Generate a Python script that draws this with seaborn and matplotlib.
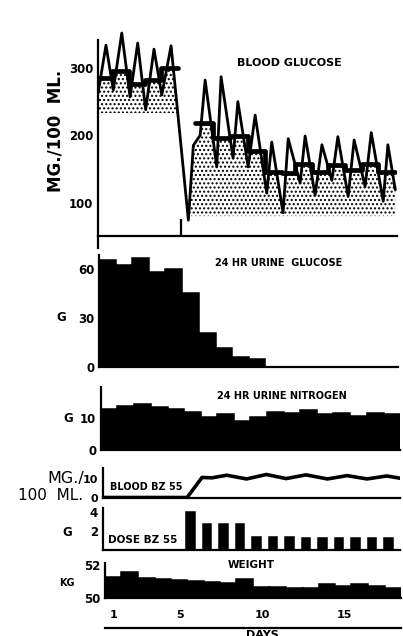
import numpy as np
import matplotlib
matplotlib.use("Agg")
import matplotlib.pyplot as plt
import seaborn as sns

# ---------------- data ----------------
days = list(range(1, 19))

# blood glucose readings, mg/100 ml (time in days from start of study)
glucose_t = [0.00, 0.48, 0.92, 1.43, 1.93, 2.39, 2.87, 3.37, 3.84, 4.40,
             5.44, 5.74, 6.15, 6.45, 7.15, 7.41, 8.13, 8.42, 9.04, 9.46,
             10.16, 10.46, 11.14, 11.45, 12.17, 12.47, 13.07, 13.48, 14.08, 14.44,
             15.06, 15.42, 16.08, 16.45, 17.17, 17.45, 17.90]
glucose_v = [262, 334, 267, 352, 257, 337, 238, 328, 260, 333,
             74, 185, 200, 282, 153, 287, 166, 250, 153, 230,
             114, 190, 85, 195, 129, 199, 111, 186, 133, 198,
             109, 193, 124, 204, 102, 186, 119]

# daily mean blood glucose, before and during BZ 55
mean_edges_pre = [0.00, 0.84, 1.85, 2.80, 3.80, 4.82]
mean_pre = [285, 295, 276, 282, 300]
mean_edges_post = [5.84, 6.90, 7.95, 9.00, 10.05, 11.05, 11.87, 12.87,
                   13.86, 14.88, 15.89, 16.87, 17.89]
mean_post = [218, 196, 199, 176, 146, 144, 158, 146, 156, 149, 158, 146]
stipple_floor_pre = 233
stipple_floor_post = 80
drug_start_day = 5

urine_glucose_g = [65.3, 62.5, 66.6, 58.0, 60.0, 45.5, 21.0, 11.4, 5.9, 4.7,
                   0, 0, 0, 0, 0, 0, 0, 0]
urine_nitrogen_g = [12.8, 13.8, 14.4, 13.5, 12.8, 11.9, 10.4, 11.25, 9.2, 10.4,
                    12.0, 11.7, 12.4, 11.25, 11.7, 10.6, 11.5, 11.3]

# blood BZ 55, mg/100 ml
bz_t = [0.0, 5.1, 6.0, 6.6, 7.5, 8.7, 9.9, 11.1, 12.3, 13.6, 14.8, 16.0, 17.2, 18.0]
bz_v = [0.0, 0.0, 10.8, 10.6, 12.0, 10.0, 12.4, 10.2, 12.2, 10.0, 11.8, 10.0, 11.6, 10.4]

dose_days = list(range(6, 19))
dose_g = [4.0, 2.75, 2.75, 2.75, 1.4, 1.4, 1.4, 1.25, 1.25, 1.25, 1.25, 1.25, 1.25]

weight_kg = [51.29, 51.56, 51.23, 51.15, 51.07, 51.03, 50.99, 50.93, 51.15,
             50.65, 50.65, 50.60, 50.59, 50.83, 50.75, 50.83, 50.73, 50.62]

day_ticks = list(range(0, 19))
day_labels = {1: "1", 5: "5", 10: "10", 15: "15"}

# ---------------- style ----------------
sns.set_style("white")
plt.rcParams["font.family"] = ["DejaVu Sans"]
plt.rcParams["font.weight"] = "bold"
plt.rcParams["axes.linewidth"] = 1.6
plt.rcParams["hatch.linewidth"] = 1.0
INK = "black"

W, H = 403, 636
fig = plt.figure(figsize=(W / 100, H / 100), dpi=100)
fig.patch.set_facecolor("white")


def add_axes(l, t, r, b):
    ax = fig.add_axes([l / W, 1 - b / H, (r - l) / W, (b - t) / H])
    ax.set_facecolor("none")
    ax.set_xlim(0, 18)
    for s in ("top", "right"):
        ax.spines[s].set_visible(False)
    for s in ("left", "bottom"):
        ax.spines[s].set_color(INK)
    ax.tick_params(axis="y", direction="out", length=2.5, width=1.4, pad=1,
                   labelsize=8.5, colors=INK)
    ax.tick_params(axis="x", bottom=False, labelbottom=False)
    ax.grid(False)
    return ax


def put(x, y, s, **kw):
    kw.setdefault("color", INK)
    kw.setdefault("fontweight", "bold")
    fig.text(x / W, 1 - y / H, s, **kw)


def step_lookup(edges, vals, x):
    idx = np.searchsorted(edges, x, side="right") - 1
    idx = np.clip(idx, 0, len(vals) - 1)
    out = np.asarray(vals, dtype=float)[idx]
    out[(x < edges[0]) | (x > edges[-1])] = np.inf
    return out


# ---------------- blood glucose ----------------
ax = add_axes(98, 25, 397, 250)
ax.set_ylim(29.6, 363.9)
ax.spines["left"].set_bounds(32, 342)
ax.spines["bottom"].set_position(("data", 50))
ax.set_yticks([100, 200, 300])
ax.set_xticks([drug_start_day])
ax.tick_params(axis="x", bottom=True, direction="in", length=12, width=1.6,
               labelbottom=False, colors=INK)

gt = np.asarray(glucose_t)
gv = np.asarray(glucose_v)
for lo, hi, floor, edges, vals in [
        (0.0, mean_edges_pre[-1], stipple_floor_pre, mean_edges_pre, mean_pre),
        (5.44, mean_edges_post[-1], stipple_floor_post, mean_edges_post, mean_post)]:
    grid = np.linspace(lo, hi, 600)
    top = np.minimum(np.interp(grid, gt, gv), step_lookup(edges, vals, grid))
    ax.fill_between(grid, floor, top, where=top > floor, interpolate=True,
                    facecolor="none", edgecolor=INK, linewidth=0, hatch="....")

sns.lineplot(x=glucose_t, y=glucose_v, ax=ax, color=INK, lw=2.0,
             estimator=None, sort=False)
for edges, vals in [(mean_edges_pre, mean_pre), (mean_edges_post, mean_post)]:
    sns.lineplot(x=edges, y=list(vals) + [vals[-1]], ax=ax, color=INK, lw=3.4,
                 estimator=None, sort=False, drawstyle="steps-post")
ax.set_xlim(0, 18)
ax.set_xlabel("")
ax.set_ylabel("")
put(237, 63, "BLOOD GLUCOSE", fontsize=8, va="center", ha="left")
put(55, 131, "MG./100  ML.", fontsize=12, rotation=90, va="center", ha="center")


def bar_panel(l, t, r, b, x, y, ylim, ticks, width=1.03):
    a = add_axes(l, t, r, b)
    sns.barplot(x=x, y=y, ax=a, native_scale=True, width=width, color=INK,
                saturation=1, errorbar=None, edgecolor=INK, linewidth=1.1)
    a.set_xlim(0, 18)
    a.set_ylim(*ylim)
    a.set_yticks(ticks)
    a.set_xlabel("")
    a.set_ylabel("")
    a.tick_params(axis="x", bottom=False, labelbottom=False)
    return a


centers = np.asarray(days) - 0.5

# ---------------- 24 hr urine glucose ----------------
ax = bar_panel(99, 255, 398, 367, centers, urine_glucose_g, (0, 68.6), [0, 30, 60])
put(215, 263, "24 HR URINE  GLUCOSE", fontsize=7, va="center", ha="left")
put(61, 317, "G", fontsize=8.5, va="center", ha="center")

# ---------------- 24 hr urine nitrogen ----------------
ax = bar_panel(101, 387, 400, 450, centers, urine_nitrogen_g, (0, 19.7), [0, 10])
put(217, 396, "24 HR URINE NITROGEN", fontsize=7, va="center", ha="left")
put(68, 418, "G", fontsize=8.5, va="center", ha="center")

# ---------------- blood BZ 55 ----------------
ax = add_axes(103, 468, 400, 497.5)
ax.set_ylim(0, 15.9)
sns.lineplot(x=bz_t, y=bz_v, ax=ax, color=INK, lw=2.6, estimator=None, sort=False)
ax.set_xlim(0, 18)
ax.set_yticks([0, 10])
ax.tick_params(axis="y", labelsize=8)
ax.set_xlabel("")
ax.set_ylabel("")
ax.tick_params(axis="x", bottom=False, labelbottom=False)
put(110, 487, "BLOOD BZ 55", fontsize=7, va="center", ha="left")
put(84, 479, "MG./", fontsize=11.5, fontweight="normal", va="center", ha="right")
put(83, 495, "100  ML.", fontsize=11, fontweight="normal", va="center", ha="right")

# ---------------- dose BZ 55 ----------------
ax = bar_panel(103, 508, 400, 550, np.asarray(dose_days) - 0.69, dose_g,
               (0, 4.47), [2, 4], width=0.5)
put(108, 540, "DOSE BZ 55", fontsize=7.5, va="center", ha="left")
put(67, 532, "G", fontsize=8.5, va="center", ha="center")

# ---------------- weight ----------------
ax = bar_panel(105, 563, 401, 598, centers, weight_kg, (50, 52.12), [50, 52])
put(251, 565, "WEIGHT", fontsize=7.5, va="center", ha="center")
put(67, 583, "KG", fontsize=7, va="center", ha="center")

# ---------------- days axis ----------------
ax = fig.add_axes([105 / W, 1 - 627.5 / H, (401 - 105) / W, 22 / H])
ax.set_facecolor("none")
for s in ("top", "right", "left"):
    ax.spines[s].set_visible(False)
ax.spines["bottom"].set_color(INK)
ax.set_xlim(0, 18)
ax.set_ylim(0, 1)
ax.set_yticks([])
ax.set_xticks(day_ticks)
ax.tick_params(axis="x", direction="in", length=5, width=1.5, colors=INK,
               labelbottom=False)
for d, lab in day_labels.items():
    ax.text(d - 0.45, 0.55, lab, transform=ax.get_xaxis_transform(),
            ha="center", va="center", fontsize=8, fontweight="bold", color=INK)
put(262, 630, "DAYS", fontsize=8, va="top", ha="center")

fig.savefig("out.png", dpi=100, facecolor="white")
